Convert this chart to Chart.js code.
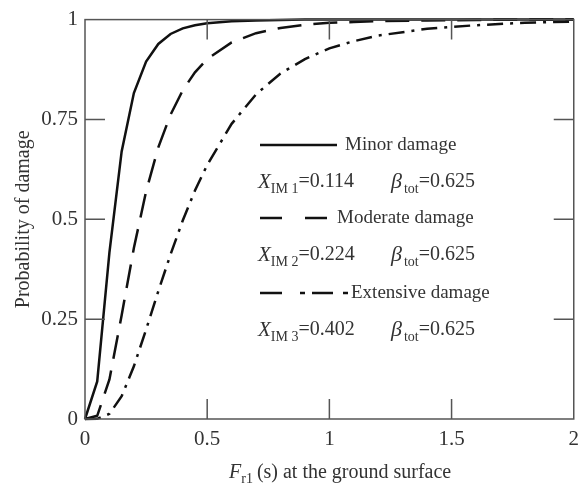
<!DOCTYPE html>
<html>
<head>
<meta charset="utf-8">
<script src="https://cdn.jsdelivr.net/npm/chart.js@4/dist/chart.umd.min.js"></script>
<style>
  body { margin: 0; background: #fff; }
  #wrap { width: 587px; height: 487px; }
</style>
</head>
<body>
<div id="wrap"><canvas id="fragility"></canvas></div>
<script>
// Fr1 values (s)
const periods = [0, 0.05, 0.1, 0.15, 0.2, 0.25, 0.3, 0.35, 0.4, 0.45, 0.5, 0.6, 0.7, 0.8, 0.9, 1.0, 1.1, 1.2, 1.4, 1.6, 1.8, 2.0];
const minorDamage = [0, 0.094, 0.417, 0.670, 0.816, 0.895, 0.939, 0.964, 0.978, 0.986, 0.991, 0.996, 0.998, 0.999, 1, 1, 1, 1, 1, 1, 1, 1];
const moderateDamage = [0, 0.008, 0.099, 0.260, 0.428, 0.570, 0.680, 0.762, 0.823, 0.868, 0.901, 0.943, 0.966, 0.979, 0.987, 0.992, 0.994, 0.996, 0.998, 0.999, 1, 1];
const extensiveDamage = [0, 0.0004, 0.013, 0.057, 0.132, 0.224, 0.320, 0.412, 0.497, 0.572, 0.636, 0.739, 0.813, 0.865, 0.901, 0.928, 0.946, 0.960, 0.977, 0.986, 0.992, 0.995];
const xTicks = [0, 0.5, 1, 1.5, 2];
const yTicks = [0, 0.25, 0.5, 0.75, 1];
const legendNames = ["Minor damage", "Moderate damage", "Extensive damage"];
const medians = ["0.114", "0.224", "0.402"];
const betaTot = "0.625";

const serif = '"Liberation Serif", "Times New Roman", serif';
const textCol = "#333";
const axisCol = "#555";

function pts(ys) { return periods.map((x, i) => ({x: x, y: ys[i]})); }

const dashes = [[], [24, 12], [16, 7, 3, 7]];

// frame, inner ticks, in-plot legend and axis titles
const decor = {
  id: "decor",
  afterDatasetsDraw(chart) {
    const c = chart.ctx, a = chart.chartArea;
    const xs = chart.scales.x, ys = chart.scales.y;
    c.save();
    c.strokeStyle = axisCol; c.lineWidth = 1.5;
    c.strokeRect(a.left, a.top, a.right - a.left, a.bottom - a.top);
    c.beginPath();
    yTicks.slice(1, -1).forEach(v => {
      const y = ys.getPixelForValue(v);
      c.moveTo(a.left, y); c.lineTo(a.left + 20, y);
      c.moveTo(a.right, y); c.lineTo(a.right - 20, y);
    });
    xTicks.slice(1, -1).forEach(v => {
      const x = xs.getPixelForValue(v);
      c.moveTo(x, a.bottom); c.lineTo(x, a.bottom - 20);
      c.moveTo(x, a.top); c.lineTo(x, a.top + 20);
    });
    c.stroke();

    // legend
    const lx = 260;
    const rows = [145, 218, 293];
    const lens = [77, 72, 88];
    const gaps = [8, 5, 3];
    c.strokeStyle = "#111"; c.lineWidth = 2.5;
    rows.forEach((y, i) => {
      c.setLineDash(i == 1 ? [22, 23] : i == 2 ? [22, 18, 5, 7, 21, 10, 5, 5] : []);
      c.beginPath(); c.moveTo(lx, y); c.lineTo(lx + lens[i], y); c.stroke();
    });
    c.setLineDash([]);
    c.fillStyle = textCol; c.textBaseline = "middle"; c.textAlign = "left";
    c.font = "19px " + serif;
    rows.forEach((y, i) => c.fillText(legendNames[i], lx + lens[i] + gaps[i], y));
    [182, 255, 330].forEach((y, i) => {
      let x = 258;
      c.font = "italic 21px " + serif; c.fillText("X", x, y); x += c.measureText("X").width;
      c.font = "14px " + serif; c.fillText("IM " + (i + 1), x, y + 7); x += c.measureText("IM " + (i + 1)).width;
      c.font = "20px " + serif; c.fillText("=" + medians[i], x, y);
      x = 391;
      c.font = "italic 22px " + serif; c.fillText("β", x, y); x += c.measureText("β").width + 2;
      c.font = "14px " + serif; c.fillText("tot", x, y + 7); x += c.measureText("tot").width;
      c.font = "20px " + serif; c.fillText("=" + betaTot, x, y);
    });

    // x title
    c.textBaseline = "alphabetic";
    let x = 229; const by = 478;
    c.font = "italic 20px " + serif; c.fillText("F", x, by); x += c.measureText("F").width;
    c.font = "14px " + serif; c.fillText("r1", x, by + 5); x += c.measureText("r1").width + 4;
    c.font = "20px " + serif; c.fillText("(s) at the ground surface", x, by);

    // y title
    c.translate(24, (a.top + a.bottom) / 2);
    c.rotate(-Math.PI / 2);
    c.textAlign = "center"; c.textBaseline = "middle";
    c.fillText("Probability of damage", 0, 0);
    c.restore();
  }
};

new Chart(document.getElementById("fragility"), {
  type: "line",
  data: {
    datasets: [minorDamage, moderateDamage, extensiveDamage].map((d, i) => ({
      label: legendNames[i],
      data: pts(d),
      borderColor: "#111",
      borderWidth: 2.5,
      borderDash: dashes[i],
      pointRadius: 0,
      fill: false,
      tension: 0,
      clip: false
    }))
  },
  options: {
    responsive: true,
    maintainAspectRatio: false,
    animation: false,
    layout: { padding: { top: 15, right: 9, left: 0, bottom: 0 } },
    plugins: { legend: { display: false }, tooltip: { enabled: false } },
    scales: {
      x: {
        type: "linear", min: 0, max: 2,
        afterBuildTicks: s => { s.ticks = xTicks.map(v => ({value: v})); },
        afterFit: s => { s.height = 68; },
        grid: { display: false, drawTicks: false },
        border: { display: false },
        ticks: { color: textCol, padding: 8, font: { family: serif, size: 21 }, maxRotation: 0, callback: v => String(v) }
      },
      y: {
        type: "linear", min: 0, max: 1,
        afterBuildTicks: s => { s.ticks = yTicks.map(v => ({value: v})); },
        afterFit: s => { s.width = 85; },
        grid: { display: false, drawTicks: false },
        border: { display: false },
        ticks: { color: textCol, padding: 7, font: { family: serif, size: 21 }, callback: v => String(v) }
      }
    }
  },
  plugins: [decor]
});
</script>
</body>
</html>
